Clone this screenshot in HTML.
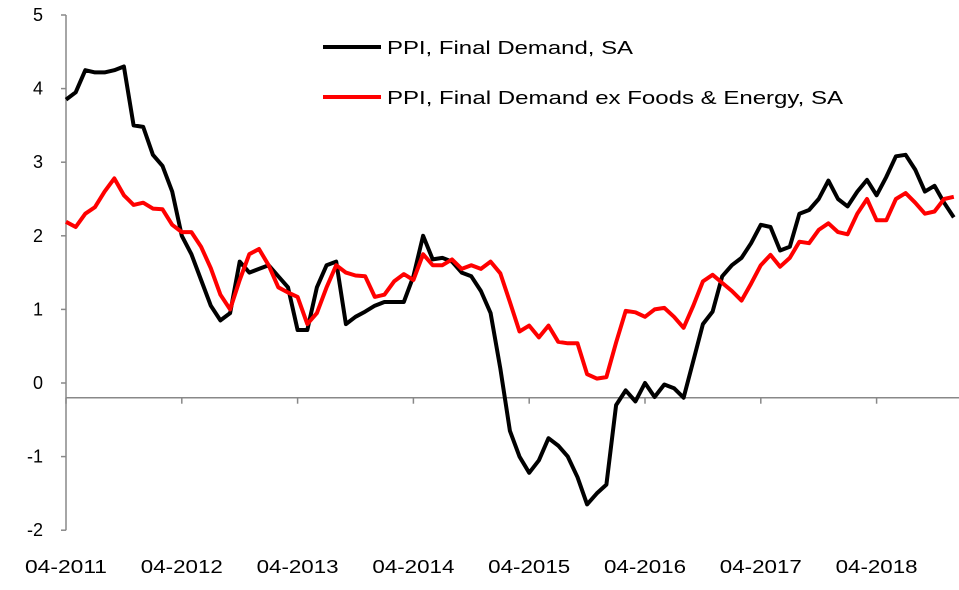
<!DOCTYPE html>
<html><head><meta charset="utf-8"><style>
body{margin:0;background:#fff;width:959px;height:585px;overflow:hidden}
svg text{font-family:"Liberation Sans",sans-serif;font-size:18px;fill:#000}
</style></head><body>
<svg id="chart" width="959" height="585" xmlns="http://www.w3.org/2000/svg"></svg>
<script>
const xLabels=["04-2011","04-2012","04-2013","04-2014","04-2015","04-2016","04-2017","04-2018"];
const yTicks=[5,4,3,2,1,0,-1,-2];
const ppiFinal=[3.85,3.95,4.25,4.22,4.22,4.25,4.3,3.5,3.48,3.1,2.95,2.6,2.0,1.75,1.4,1.05,0.85,0.95,1.65,1.5,1.55,1.6,1.45,1.3,0.72,0.72,1.3,1.6,1.65,0.8,0.9,0.97,1.05,1.1,1.1,1.1,1.45,2.0,1.68,1.7,1.65,1.5,1.45,1.25,0.95,0.2,-0.65,-1.0,-1.22,-1.05,-0.75,-0.85,-1.0,-1.28,-1.65,-1.5,-1.38,-0.3,-0.1,-0.25,0,-0.19,-0.02,-0.07,-0.2,0.3,0.8,0.97,1.45,1.6,1.7,1.9,2.15,2.12,1.8,1.85,2.3,2.35,2.5,2.75,2.5,2.4,2.6,2.76,2.55,2.8,3.08,3.1,2.9,2.6,2.68,2.45,2.25];
const ppiCore=[2.19,2.12,2.3,2.39,2.6,2.78,2.55,2.42,2.45,2.37,2.36,2.15,2.05,2.05,1.85,1.56,1.2,1.0,1.4,1.75,1.82,1.6,1.3,1.23,1.17,0.8,0.95,1.3,1.6,1.5,1.46,1.45,1.17,1.2,1.38,1.48,1.4,1.75,1.6,1.6,1.68,1.55,1.6,1.55,1.65,1.49,1.1,0.7,0.78,0.62,0.78,0.56,0.54,0.54,0.12,0.06,0.08,0.55,0.98,0.96,0.9,1.0,1.02,0.9,0.75,1.05,1.38,1.47,1.36,1.25,1.12,1.35,1.6,1.74,1.58,1.7,1.92,1.9,2.08,2.17,2.05,2.02,2.3,2.5,2.21,2.21,2.5,2.58,2.45,2.3,2.33,2.5,2.53];
const seriesNames=["PPI, Final Demand, SA","PPI, Final Demand ex Foods & Energy, SA"];

const NS="http://www.w3.org/2000/svg";
const svg=document.getElementById('chart');
const X0=66, MONTH=9.65, Y0=383, UNIT=73.6, AXISV=-0.2;
const xS=i=>X0+i*MONTH;
const yS=v=>Y0-v*UNIT;
function mk(tag,attrs){const e=document.createElementNS(NS,tag);for(const k in attrs)e.setAttribute(k,attrs[k]);svg.appendChild(e);return e;}

let ya=mk('line',{x1:X0,y1:yS(5),x2:X0,y2:yS(-2),stroke:'#888','stroke-width':1.5});


yTicks.forEach(v=>{
  let t=mk('line',{x1:X0-5,y1:yS(v),x2:X0,y2:yS(v),stroke:'#888','stroke-width':1.5});
  
  
  let l=mk('text',{x:43,y:yS(v)+6,'text-anchor':'end'});l.textContent=v;
  
  
});
let xa=mk('line',{x1:X0,y1:yS(AXISV),x2:959,y2:yS(AXISV),stroke:'#888','stroke-width':1.5});


xLabels.forEach((s,k)=>{
  const x=xS(k*12);
  let t=mk('line',{x1:x,y1:yS(AXISV),x2:x,y2:yS(AXISV)+6,stroke:'#888','stroke-width':1.5});
  
  
  let l=mk('text',{x:x-41,y:573,textLength:82,lengthAdjust:'spacingAndGlyphs'});l.textContent=s;
  
  
});
function line(data,color,name){
  const d=data.map((v,i)=>(i?'L':'M')+xS(i).toFixed(1)+','+yS(v).toFixed(1)).join('');
  let p=mk('path',{d:d,fill:'none',stroke:color,'stroke-width':4,'stroke-linejoin':'round'});
  
  
}
line(ppiFinal,'#000000','series-ppi-final-demand');
line(ppiCore,'#ff0000','series-ppi-core');
[[47,'#000',246],[97,'#ff0000',456]].forEach((c,k)=>{
  let s=mk('line',{x1:323,y1:c[0],x2:381,y2:c[0],stroke:c[1],'stroke-width':4});
  
  
  let t=mk('text',{x:387,y:c[0]+7,textLength:c[2],lengthAdjust:'spacingAndGlyphs','font-size':20});t.textContent=seriesNames[k];
  
  
});
</script>
</body></html>
